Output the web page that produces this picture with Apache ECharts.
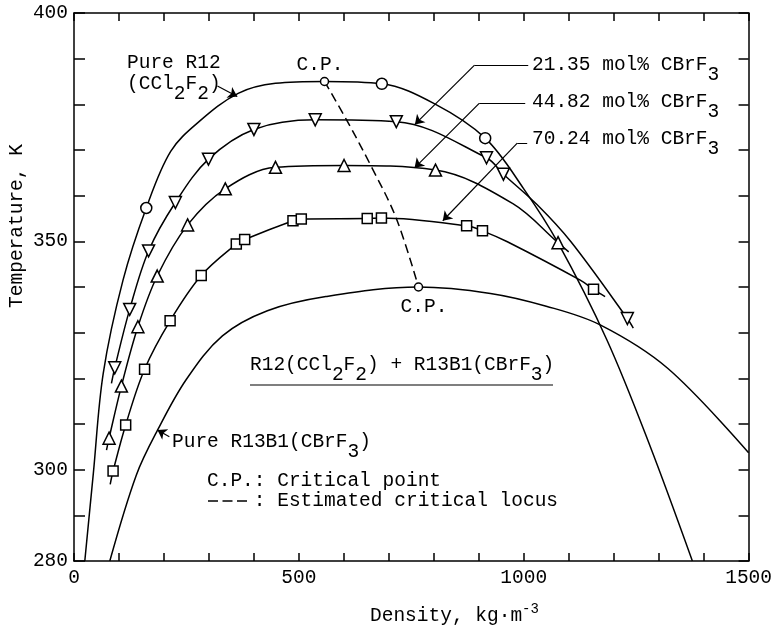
<!DOCTYPE html>
<html><head><meta charset="utf-8">
<script src="https://cdn.jsdelivr.net/npm/echarts@6/dist/echarts.min.js"></script>
<style>html,body{margin:0;padding:0;background:#fff}#c{width:775px;height:628px}</style>
</head><body><div id="c"></div>
<script>
// ---- tick labels ----
const xTickLabels = [0, 500, 1000, 1500];
const yTickLabels = [280, 300, 350, 400];

// ---- Pure R12 (CCl2F2) ----
const r12Curve = [[24,280],[43,299.2],[65,321.1],[109,341.5],[160.7,357.3],[215,369.7],[278,376.2],[365,382.4],[448,384.6],[557,385.0],[684.5,384.5],[800,380.2],[914.3,372.6],[1000,361.5],[1076,349.7],[1185,328.4],[1280,305.4],[1375,280]];
const r12Points = [[160.7,357.3],[684.5,384.5],[914.3,372.6]];

// ---- 21.35 mol% CBrF3 ----
const mix21Curve = [[83.3,318.9],[90.6,322.3],[123.8,335.1],[165.8,347.9],[225.4,358.5],[299,368.0],[400,374.5],[536.4,376.6],[716.7,376.2],[917.2,368.3],[954.8,364.7],[1030,358.0],[1105,349.9],[1230.4,333.1],[1243.6,331.0]];
const mix21Points = [[90.6,322.3],[123.8,335.1],[165.8,347.9],[225.4,358.5],[299,368.0],[400,374.5],[536.4,376.6],[716.7,376.2],[917.2,368.3],[954.8,364.7],[1230.4,333.1]];

// ---- 44.82 mol% CBrF3 ----
const mix44Curve = [[72.3,304.3],[78,306.9],[105.4,318.3],[142.1,331.3],[185,342.4],[252.6,353.6],[336.4,361.5],[448,366.2],[600.5,366.6],[803.8,365.6],[975,358.3],[1076.3,349.7],[1100,347.7]];
const mix44Points = [[78,306.9],[105.4,318.3],[142.1,331.3],[185,342.4],[252.6,353.6],[336.4,361.5],[448,366.2],[600.5,366.6],[803.8,365.6],[1076.3,349.7]];

// ---- 70.24 mol% CBrF3 ----
const mix70Curve = [[80.5,296.8],[86.9,299.7],[114.9,309.8],[156.9,322.0],[213.7,332.6],[282.9,342.5],[360.9,349.4],[379.5,350.4],[486.9,354.5],[505.4,354.9],[652,355.0],[683.6,355.1],[873,353.4],[908.3,352.3],[963.6,349.9],[1125.6,341.5],[1155.2,339.5],[1180.9,337.9]];
const mix70Points = [[86.9,299.7],[114.9,309.8],[156.9,322.0],[213.7,332.6],[282.9,342.5],[360.9,349.4],[379.5,350.4],[486.9,354.5],[505.4,354.9],[652,355.0],[683.6,355.1],[873,353.4],[908.3,352.3],[1155.2,339.5]];

// ---- Pure R13B1 (CBrF3) ----
const r13b1Curve = [[79.6,280],[138.5,298.8],[186,308.7],[250,319.8],[330,329.3],[430,334.8],[560,337.9],[766,340],[926,338.6],[1050,335.8],[1170,331.7],[1320,322.2],[1500,303.7]];

// ---- critical points & estimated critical locus ----
const criticalPoints = [[557,385.0],[766,340.0]];
const criticalLocus = [[557,385.0],[606,376.6],[661.5,366.3],[716.7,355.0],[766,340.0]];

// ---- annotation leader lines (data coords) ----
const leaderPlain = [
  [[1010,388.6],[890.6,388.6]],
  [[1003.3,380.2],[901,380.2]],
  [[1007.7,371.5],[985.6,371.5]]
];
const leaderArrow = [
  [[890.6,388.6],[758,375.6]],
  [[901,380.2],[757.3,366.1]],
  [[985.6,371.5],[820,354.5]],
  [[318.9,384.0],[363,381.7]],
  [[212,307.2],[185.6,308.7]]
];

const FONT = '"Liberation Mono", "DejaVu Sans Mono", monospace';
const FS = 19.5;
const CW = FS * 0.6;
const SUBDY = 9.5;

const chart = echarts.init(document.getElementById('c'), null, {renderer: 'canvas'});

function curve(data, dashed) {
  return {type: 'line', data: data, smooth: 0.35, symbol: 'none', showSymbol: false,
    lineStyle: {color: '#000', width: 1.5, type: dashed ? [9, 5] : 'solid'}, silent: true, z: 2};
}
function marks(data, symbol, size, rotate) {
  return {type: 'scatter', data: data, symbol: symbol, symbolSize: size, symbolRotate: rotate || 0,
    itemStyle: {color: '#fff', borderColor: '#000', borderWidth: 1.5, opacity: 1}, silent: true, z: 5};
}
function leaders(segs, arrow) {
  return {type: 'lines', coordinateSystem: 'cartesian2d', silent: true, z: 4,
    symbol: arrow ? ['none', 'arrow'] : ['none', 'none'], symbolSize: 9,
    lineStyle: {color: '#000', width: 1.2, opacity: 1, curveness: 0},
    data: segs.map(function (s) { return {coords: s}; })};
}

function axisCommon(extra) {
  return Object.assign({
    type: 'value',
    axisLine: {show: true, onZero: false, lineStyle: {color: '#000', width: 1.5}},
    axisTick: {show: true, inside: true, lineStyle: {color: '#000', width: 1.5}},
    splitLine: {show: false}
  }, extra);
}

// text helpers: "_x" marks a subscript character (typewriter style, same size, lowered)
function richText(x, y, str, align) {
  let main = '', sub = '';
  for (let i = 0; i < str.length; i++) {
    if (str[i] === '_') { main += ' '; sub += str[i + 1]; i++; }
    else { main += str[i]; sub += ' '; }
  }
  const base = {fill: '#000', fontSize: FS, fontFamily: FONT, textAlign: align || 'left', align: align || 'left',
    textVerticalAlign: 'middle', verticalAlign: 'middle'};
  const els = [{type: 'text', x: x, y: y, silent: true, style: Object.assign({text: main}, base)}];
  if (sub.trim()) els.push({type: 'text', x: x, y: y + SUBDY, silent: true, style: Object.assign({text: sub}, base)});
  return els;
}

const graphics = [].concat(
  richText(127, 63, 'Pure R12'),
  richText(127, 84, '(CCl_2F_2)'),
  richText(320, 65, 'C.P.', 'center'),
  richText(532, 65, '21.35 mol% CBrF_3'),
  richText(532, 102, '44.82 mol% CBrF_3'),
  richText(532, 139, '70.24 mol% CBrF_3'),
  richText(424, 307, 'C.P.', 'center'),
  richText(250, 365, 'R12(CCl_2F_2) + R13B1(CBrF_3)'),
  [{type: 'line', silent: true, shape: {x1: 250, y1: 385, x2: 553, y2: 385}, style: {stroke: '#000', lineWidth: 1.2}}],
  richText(172, 442, 'Pure R13B1(CBrF_3)'),
  richText(207, 481, 'C.P.: Critical point'),
  [{type: 'line', silent: true, shape: {x1: 208, y1: 501, x2: 247, y2: 501}, style: {stroke: '#000', lineWidth: 1.6, lineDash: [10, 4.5]}}],
  richText(207 + 4 * CW, 501, ': Estimated critical locus'),
  [{type: 'text', x: 17, y: 226, rotation: Math.PI / 2, silent: true,
    style: {text: 'Temperature, K', fill: '#000', fontSize: FS, fontFamily: FONT, textAlign: 'center', align: 'center', textVerticalAlign: 'middle', verticalAlign: 'middle'}}],
  richText(370, 616, 'Density, kg\u00b7m'),
  [{type: 'text', x: 370 + 13 * CW, y: 609, silent: true,
    style: {text: '-3', fill: '#000', fontSize: 14, fontFamily: FONT, textAlign: 'left', align: 'left', textVerticalAlign: 'middle', verticalAlign: 'middle'}}]
);

chart.setOption({
  animation: false,
  backgroundColor: '#fff',
  grid: {left: 74, right: 22, top: 13, bottom: 67, containLabel: false},
  xAxis: [
    axisCommon({min: 0, max: 1500, interval: 100, position: 'bottom',
      axisTick: {show: true, inside: true, length: 8, lineStyle: {color: '#000', width: 1.5}},
      axisLabel: {show: true, margin: 7, color: '#000', fontFamily: FONT, fontSize: FS,
        formatter: function (v) { return xTickLabels.indexOf(v) >= 0 ? String(v) : ''; }}}),
    axisCommon({min: 0, max: 1500, interval: 100, position: 'top',
      axisTick: {show: true, inside: true, length: 8, lineStyle: {color: '#000', width: 1.5}},
      axisLabel: {show: false}})
  ],
  yAxis: [
    axisCommon({min: 280, max: 400, interval: 10, position: 'left',
      axisTick: {show: true, inside: true, length: 11, lineStyle: {color: '#000', width: 1.5}},
      axisLabel: {show: true, margin: 6, color: '#000', fontFamily: FONT, fontSize: FS,
        formatter: function (v) { return yTickLabels.indexOf(v) >= 0 ? String(v) : ''; }}}),
    axisCommon({min: 280, max: 400, interval: 10, position: 'right',
      axisTick: {show: true, inside: true, length: 10, lineStyle: {color: '#000', width: 1.5}},
      axisLabel: {show: false}})
  ],
  series: [
    curve(r12Curve),
    curve(mix21Curve),
    curve(mix44Curve),
    curve(mix70Curve),
    curve(r13b1Curve),
    curve(criticalLocus, true),
    leaders(leaderPlain, false),
    leaders(leaderArrow, true),
    marks(r12Points, 'circle', 11),
    marks(mix21Points, 'triangle', 12, 180),
    marks(mix44Points, 'triangle', 12),
    marks(mix70Points, 'rect', 10),
    marks(criticalPoints, 'circle', 8)
  ],
  graphic: graphics
});
</script>
</body></html>
